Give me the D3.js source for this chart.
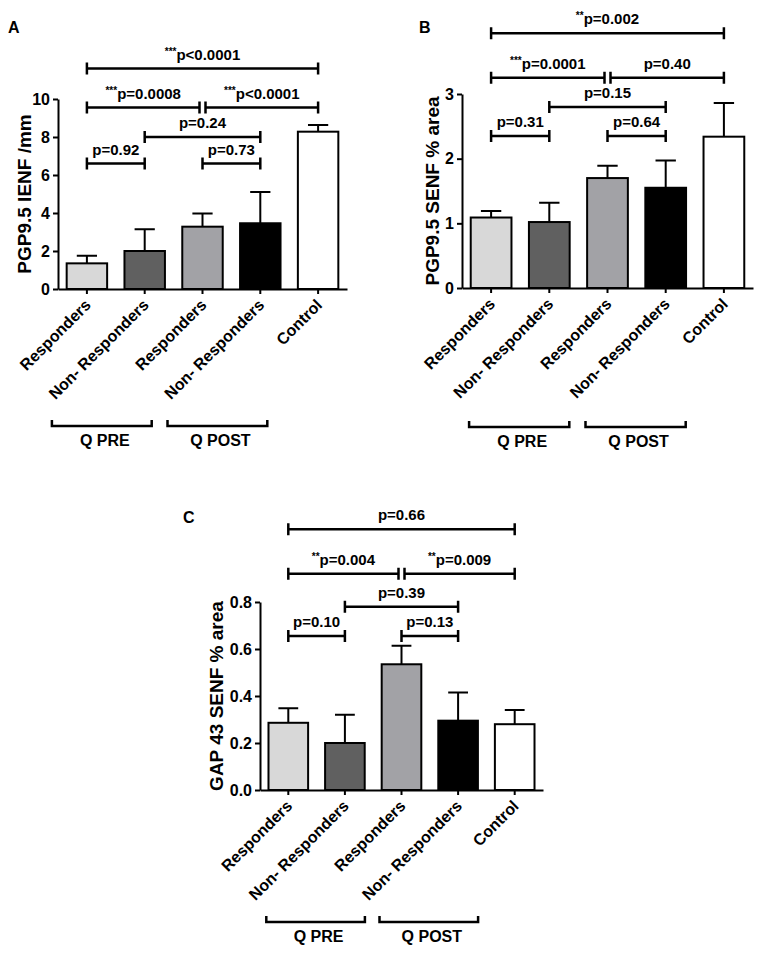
<!DOCTYPE html>
<html lang='en'>
  <head>
    <meta charset='utf-8'>
    <title>D3: PGP9.5 / GAP 43 bar charts</title>
    <script type='text/javascript' src='https://cdn.jsdelivr.net/npm/d3@7/dist/d3.min.js'></script>
    <style type='text/css'>
    body { margin: 0; background: #fff; }
    svg text {
      font-family: 'Liberation Sans', Arial, sans-serif;
      font-weight: bold;
      fill: #000;
    }
    .axis path,
    .axis line {
      fill: none;
      stroke: black;
      stroke-width: 2px;
    }
    .axis text { font-size: 16px; }
    </style>
  </head>
  <body>
    <script type='text/javascript'>

    var w = 765;
    var h = 956;

    // categories and groups (shared by the three panels)
    var categories = ['Responders', 'Non- Responders', 'Responders', 'Non- Responders', 'Control'];
    var groupNames = ['Q PRE', 'Q POST'];
    var groupMembers = [[0, 1], [2, 3]];

    // panel A: PGP9.5 IENF /mm (mean, sem)
    var ienfMean = [1.35, 2.0, 3.28, 3.46, 8.28];
    var ienfSem = [0.40, 1.14, 0.70, 1.64, 0.35];
    var ienfTicks = [0, 2, 4, 6, 8, 10];
    // comparisons: [from, to, level, stars, p]
    var ienfTests = [
      [0, 4, 11.6, '***', 'p<0.0001'],
      [0, 2, 9.55, '***', 'p=0.0008'],
      [2, 4, 9.55, '***', 'p<0.0001'],
      [1, 3, 8.0, '', 'p=0.24'],
      [0, 1, 6.6, '', 'p=0.92'],
      [2, 3, 6.6, '', 'p=0.73']
    ];

    // panel B: PGP9.5 SENF % area
    var senfMean = [1.09, 1.02, 1.70, 1.55, 2.34];
    var senfSem = [0.10, 0.30, 0.19, 0.42, 0.52];
    var senfTicks = [0, 1, 2, 3];
    var senfTests = [
      [0, 4, 3.94, '**', 'p=0.002'],
      [0, 2, 3.25, '***', 'p=0.0001'],
      [2, 4, 3.25, '', 'p=0.40'],
      [1, 3, 2.80, '', 'p=0.15'],
      [0, 1, 2.35, '', 'p=0.31'],
      [2, 3, 2.35, '', 'p=0.64']
    ];

    // panel C: GAP 43 SENF % area
    var gapMean = [0.286, 0.20, 0.535, 0.295, 0.28];
    var gapSem = [0.062, 0.12, 0.079, 0.12, 0.06];
    var gapTicks = [0, 0.2, 0.4, 0.6, 0.8];
    var gapTests = [
      [0, 4, 1.11, '', 'p=0.66'],
      [0, 2, 0.92, '**', 'p=0.004'],
      [2, 4, 0.92, '**', 'p=0.009'],
      [1, 3, 0.78, '', 'p=0.39'],
      [0, 1, 0.655, '', 'p=0.10'],
      [2, 3, 0.655, '', 'p=0.13']
    ];

    var barFills = ['#d8d8d8', '#606060', '#a2a2a6', '#000000', '#ffffff'];

    var panels = [
      {letter: 'A', lx: 8, ly: 33, title: 'PGP9.5 IENF /mm', mean: ienfMean, sem: ienfSem,
       ticks: ienfTicks, fmt: d3.format('d'), tests: ienfTests, domain: [0, 10],
       x0: 58, x1: 347, top: 99, bottom: 289, titleGap: 27, groupY: 426, groupShift: -13},
      {letter: 'B', lx: 419, ly: 33, title: 'PGP9.5 SENF % area', mean: senfMean, sem: senfSem,
       ticks: senfTicks, fmt: d3.format('d'), tests: senfTests, domain: [0, 3],
       x0: 462, x1: 753, top: 94, bottom: 288, titleGap: 23, groupY: 427, groupShift: 0},
      {letter: 'C', lx: 183, ly: 523, title: 'GAP 43 SENF % area', mean: gapMean, sem: gapSem,
       ticks: gapTicks, fmt: d3.format('.1f'), tests: gapTests, domain: [0, 0.8],
       x0: 260, x1: 543, top: 602, bottom: 790, titleGap: 37, groupY: 922, groupShift: 0}
    ];

    var svg = d3.select('body')
                .append('svg')
                .attr('width', w)
                .attr('height', h);

    panels.forEach(function(p){
      var g = svg.append('g');

      var xScale = d3.scaleBand()
                     .domain(d3.range(categories.length))
                     .range([p.x0, p.x1])
                     .paddingInner(0.3)
                     .paddingOuter(0.15);
      var cx = function(i){ return xScale(i) + xScale.bandwidth() / 2; };

      var yScale = d3.scaleLinear()
                     .domain(p.domain)
                     .range([p.bottom, p.top]);

      // bars
      g.selectAll('rect')
       .data(p.mean)
       .enter()
       .append('rect')
       .attr('x', function(d, i){ return xScale(i); })
       .attr('y', function(d){ return yScale(d); })
       .attr('width', xScale.bandwidth())
       .attr('height', function(d){ return p.bottom - yScale(d); })
       .attr('fill', function(d, i){ return barFills[i]; })
       .attr('stroke', 'black')
       .attr('stroke-width', 2);

      // error bars (upper only)
      var capW = xScale.bandwidth() / 4;
      g.selectAll('path.err')
       .data(p.mean)
       .enter()
       .append('path')
       .attr('class', 'err')
       .attr('d', function(d, i){
         var yt = yScale(d + p.sem[i]);
         return 'M' + cx(i) + ',' + yScale(d) + 'V' + yt +
                'M' + (cx(i) - capW) + ',' + yt + 'H' + (cx(i) + capW);
       })
       .attr('fill', 'none')
       .attr('stroke', 'black')
       .attr('stroke-width', 2);

      // axes
      var xAxis = d3.axisBottom(xScale)
                    .tickSize(5)
                    .tickSizeOuter(0)
                    .tickFormat(function(i){ return categories[i]; });
      var yAxis = d3.axisLeft(yScale)
                    .tickValues(p.ticks)
                    .tickFormat(p.fmt)
                    .tickSize(5)
                    .tickPadding(3)
                    .tickSizeOuter(0);

      g.append('g')
       .attr('class', 'x axis')
       .attr('transform', 'translate(0,' + p.bottom + ')')
       .call(xAxis)
       .selectAll('text')
       .attr('x', null)
       .attr('y', null)
       .attr('dy', null)
       .attr('text-anchor', 'end')
       .attr('transform', 'translate(5,17) rotate(-45)');

      g.append('g')
       .attr('class', 'y axis')
       .attr('transform', 'translate(' + p.x0 + ',0)')
       .call(yAxis);

      // y title
      g.append('text')
       .attr('transform', 'translate(' + (p.x0 - p.titleGap) + ',' + ((p.top + p.bottom) / 2) + ') rotate(-90)')
       .attr('text-anchor', 'middle')
       .style('font-size', '19px')
       .text(p.title);

      // panel letter
      g.append('text')
       .attr('x', p.lx)
       .attr('y', p.ly)
       .style('font-size', '16px')
       .text(p.letter);

      // significance brackets
      p.tests.forEach(function(t){
        var xa = cx(t[0]);
        var xb = cx(t[1]);
        p.tests.forEach(function(o){
          if (o !== t && o[2] === t[2]) {
            if (o[1] === t[0]) xa += 3;
            if (o[0] === t[1]) xb -= 3;
          }
        });
        var ly = yScale(t[2]);
        g.append('path')
         .attr('d', 'M' + xa + ',' + (ly - 6) + 'V' + (ly + 6) + 'M' + xa + ',' + ly + 'H' + xb +
                    'M' + xb + ',' + (ly - 6) + 'V' + (ly + 6))
         .attr('fill', 'none')
         .attr('stroke', 'black')
         .attr('stroke-width', 2.5);
        var txt = g.append('text')
                   .attr('x', (xa + xb) / 2)
                   .attr('y', ly - 9)
                   .attr('text-anchor', 'middle')
                   .style('font-size', '15px');
        if (t[3]) {
          txt.append('tspan').attr('dy', -5).style('font-size', '10px').text(t[3]);
          txt.append('tspan').attr('dy', 5).text(t[4]);
        } else {
          txt.text(t[4]);
        }
      });

      // Q PRE / Q POST group brackets
      groupMembers.forEach(function(m, k){
        var xa = cx(m[0]) - 22 + p.groupShift;
        var xb = cx(m[1]) + 20 + p.groupShift;
        g.append('path')
         .attr('d', 'M' + xa + ',' + (p.groupY - 6) + 'V' + p.groupY + 'H' + xb + 'V' + (p.groupY - 6))
         .attr('fill', 'none')
         .attr('stroke', 'black')
         .attr('stroke-width', 2.5);
        g.append('text')
         .attr('x', (xa + xb) / 2 + 3)
         .attr('y', p.groupY + 20)
         .attr('text-anchor', 'middle')
         .style('font-size', '16px')
         .text(groupNames[k]);
      });
    });

    </script>
  </body>
</html>
